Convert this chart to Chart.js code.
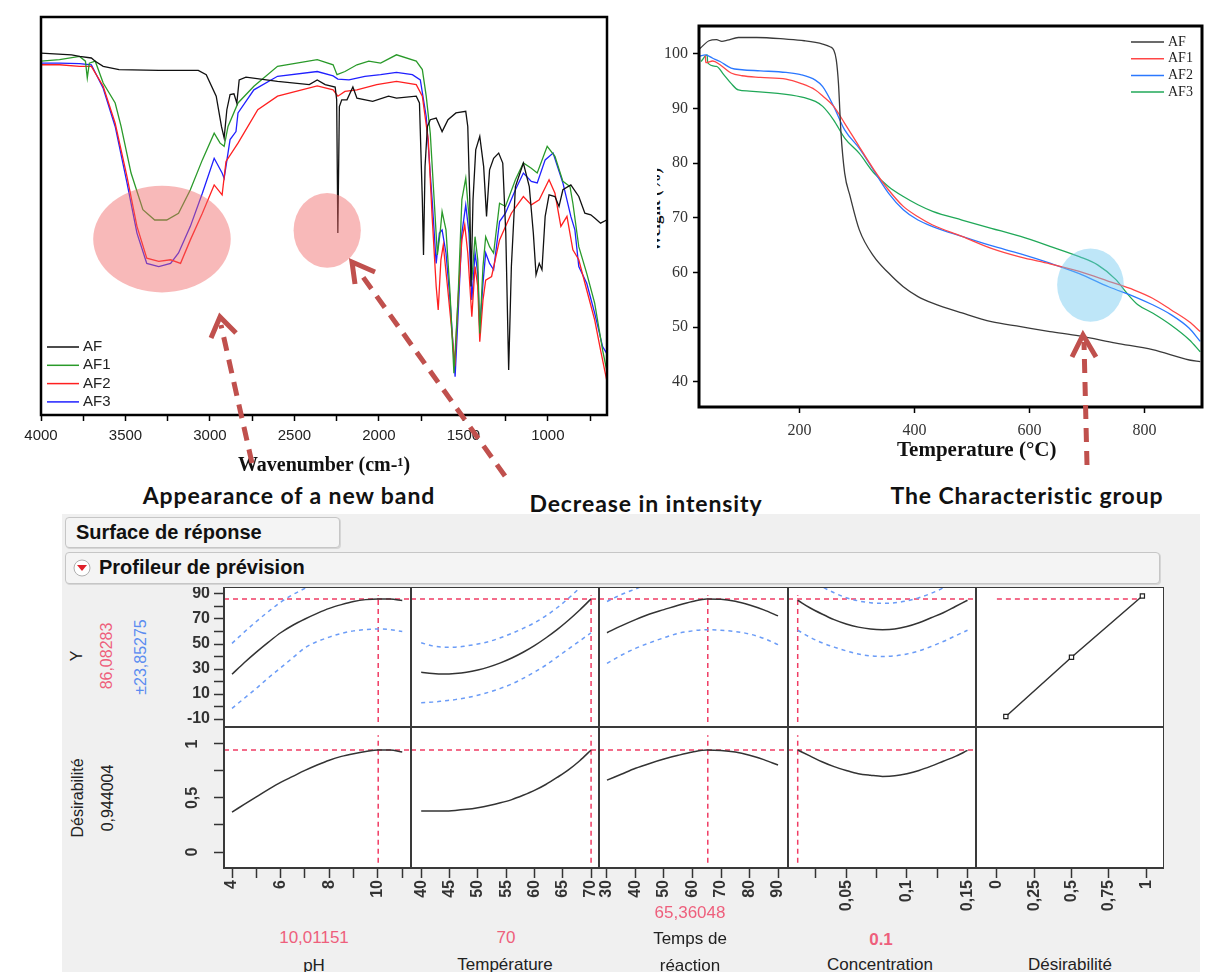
<!DOCTYPE html>
<html>
<head>
<meta charset="utf-8">
<script src="https://cdn.jsdelivr.net/npm/chart.js@4.4.1/dist/chart.umd.min.js"></script>
<style>
html, body { margin: 0; padding: 0; background: #fff; }
#page { position: relative; width: 1214px; height: 972px; overflow: hidden; background: #fff; font-family: "Liberation Sans", Arial, sans-serif; }
canvas { position: absolute; }
.note { position: absolute; font-family: Lato, "Open Sans", sans-serif; font-weight: 700; font-size: 23px; letter-spacing: 0.9px; color: #111; white-space: nowrap; transform: translate(-50%, -50%); }
#panel { position: absolute; left: 62px; top: 514px; width: 1138px; height: 458px; background: #f0f0f0; }
.bar { position: absolute; box-sizing: border-box; border: 1px solid #c6c6c6; border-radius: 4px; background: #f4f4f4; box-shadow: 1px 1px 0 #d6d6d6; font-weight: 700; font-size: 20px; color: #111; line-height: 28px; }
.lab { position: absolute; white-space: nowrap; transform: translate(-50%, -50%); font-size: 17px; color: #222; }
.rot { position: absolute; white-space: nowrap; transform: translate(-50%, -50%) rotate(-90deg); font-size: 16px; color: #222; }
.red { color: #ee5f7c; }
.blue { color: #5b8cf0; }
#wclip { position: absolute; left: 657px; top: 140px; width: 13px; height: 140px; overflow: hidden; }
#wclip span { position: absolute; left: -2px; top: 70px; transform: translate(-50%, -50%) rotate(-90deg); font: bold 17px "Liberation Serif", serif; color: #111; white-space: nowrap; }
svg { position: absolute; left: 0; top: 0; }
</style>
</head>
<body>
<div id="page">
  <div id="panel"></div>
  <div class="bar" style="left:65px;top:517px;width:275px;height:31px;padding-left:10px;">Surface de réponse</div>
  <div class="bar" style="left:65px;top:552px;width:1095px;height:32px;padding-left:33px;">
    <svg width="20" height="20" style="left:6px;top:5px;"><circle cx="10" cy="10" r="8" fill="#fff" stroke="#b0b0b0"/><path d="M5 7 L15 7 L10 13 Z" fill="#e0202a"/></svg>
    Profileur de prévision
  </div>
  <div id="wclip"><span>Weight (%)</span></div>
</div>
<script>
// ---------- FTIR spectra ----------
const ftirTicks = [4000, 3750, 3500, 3250, 3000, 2750, 2500, 2250, 2000, 1750, 1500, 1250, 1000, 750];
const ftirLabels = [4000, 3500, 3000, 2500, 2000, 1500, 1000];

const afWave = [4000,3819,3772,3702,3679,3632,3538,3303,3069,3022,2963,2932,2916,2900,2881,2858,2841,2827,2787,2600,2412,2365,2318,2259,2250,2243,2234,2220,2189,2154,2130,2037,1943,1896,1779,1760,1743,1736,1727,1713,1696,1661,1626,1591,1544,1486,1474,1462,1455,1443,1427,1403,1380,1363,1345,1321,1291,1267,1249,1232,1216,1192,1145,1110,1086,1070,1051,1035,1016,993,958,934,911,864,817,781,746,723,688,652];
const afTrans = [90.9,90.5,90.1,89.7,88.9,87.6,86.8,86.6,86.6,85.5,80.1,72.5,69.6,76.7,80.5,80.7,78.4,84.2,84.9,83.8,83.0,84.2,83.0,82.4,79.2,45.7,77.5,79.2,79.2,82.4,79.6,78.8,80.1,79.6,80.1,78.4,54.1,40.2,62.4,72.5,74.2,74.6,71.2,74.2,75.9,76.3,72.5,54.1,32.3,54.1,66.6,70.0,62.4,49.9,61.6,64.5,65.8,63.3,45.7,11.3,37.3,57.4,63.3,57.4,45.7,35.2,38.1,36.5,49.9,55.3,54.9,52.4,56.6,57.8,54.9,50.7,50.3,49.5,48.2,49.0];

const af1Wave = [4000,3890,3772,3737,3726,3714,3679,3632,3561,3526,3467,3397,3327,3256,3186,3116,3045,2975,2940,2916,2893,2834,2740,2600,2365,2271,2248,2201,2130,2060,1990,1896,1779,1743,1720,1696,1673,1654,1638,1626,1603,1579,1556,1532,1509,1486,1467,1450,1431,1415,1403,1384,1368,1345,1321,1286,1251,1192,1145,1098,1063,1004,958,911,869,852,817,770,723,676,652];
const af1Trans = [88.9,89.3,90.1,88.9,84.7,88.4,88.9,83.4,78.4,72.5,60.8,51.6,49.0,49.0,50.7,56.6,64.1,70.8,68.3,67.5,72.5,78.4,82.6,87.6,89.3,88.0,85.5,86.3,88.0,88.9,88.4,90.5,88.9,86.8,80.1,70.8,54.1,40.2,45.7,51.1,46.5,30.6,10.5,28.9,54.1,59.5,49.9,33.9,44.8,39.0,20.5,37.3,44.8,42.3,40.7,53.2,52.4,59.1,63.3,62.0,60.8,67.5,65.0,58.7,57.4,53.2,42.3,35.6,28.1,16.3,11.3];

const af2Wave = [4000,3890,3772,3702,3632,3561,3491,3432,3374,3303,3233,3174,3116,3045,2975,2928,2905,2834,2717,2600,2365,2271,2243,2201,2130,2013,1896,1779,1743,1708,1685,1661,1649,1633,1619,1596,1567,1551,1532,1509,1492,1474,1450,1431,1415,1403,1384,1368,1333,1286,1216,1145,1098,1051,993,958,923,887,852,817,770,723,688,652];
const af2Trans = [88.0,88.0,87.6,87.6,82.6,73.3,59.9,47.4,39.4,38.6,39.0,38.1,44.0,50.7,57.8,55.3,63.7,68.3,76.7,80.1,82.7,81.7,80.1,81.3,81.7,83.0,83.8,83.0,80.1,69.2,49.9,32.3,26.4,39.0,42.7,33.1,20.5,12.2,28.9,44.0,47.8,40.7,24.7,37.3,32.3,18.4,28.9,33.9,34.8,44.0,50.7,54.9,52.8,54.1,59.1,55.7,47.4,49.9,41.5,39.0,31.4,23.9,16.3,8.8];

const af3Wave = [4000,3890,3772,3702,3632,3561,3491,3432,3374,3303,3233,3186,3116,3045,2975,2928,2916,2881,2846,2834,2740,2600,2365,2271,2243,2177,2083,1990,1896,1802,1755,1720,1685,1661,1642,1626,1603,1579,1549,1532,1509,1486,1467,1450,1431,1415,1403,1384,1368,1345,1321,1286,1251,1192,1145,1098,1063,1016,969,911,864,840,817,770,723,676,652];
const af3Trans = [88.4,88.4,88.3,88.0,82.1,72.5,58.3,45.7,38.1,37.3,38.1,40.7,47.4,55.7,64.5,60.8,59.5,69.2,71.2,75.9,81.7,85.1,86.3,85.2,84.4,84.2,85.1,85.5,86.1,85.5,84.2,75.0,54.1,38.1,45.7,46.5,40.7,28.9,9.6,24.7,45.7,52.8,45.7,28.9,40.7,35.6,21.4,33.1,40.7,38.1,36.5,48.6,50.7,56.6,60.8,58.7,58.3,64.1,65.8,58.3,49.9,46.5,37.3,33.1,25.6,17.2,15.5];

// highlighted regions (centre and half-size in axis units)
const ftirSpots = [
  { x: 3284, y: 44.2, rx: 407, ry: 13.4 },
  { x: 2306, y: 46.4, rx: 199, ry: 9.4 }
];

// ---------- TGA ----------
const tgaXTicks = [200, 400, 600, 800];
const tgaYTicks = [40, 50, 60, 70, 80, 90, 100];

const tgaAfTemp = [26.6,42.5,55.3,64.8,74.4,93.5,125.4,176.4,208.3,240.2,252.9,259.3,263.8,267.6,272.0,278.4,288.0,303.9,329.4,354.9,380.4,405.9,431.4,482.5,533.5,584.5,635.5,686.5,750.3,814.0,877.8,896.9];
const tgaAfWeight = [101.0,102.4,102.6,102.3,102.5,103.0,103.0,102.7,102.4,101.8,101.3,100.7,98.9,94.6,85.5,78.2,73.9,67.8,62.9,59.9,57.4,55.6,54.4,52.6,51.0,50.1,49.2,48.4,47.1,45.9,44.0,43.7];

const tgaAf1Temp = [36.1,36.8,48.9,61.6,80.8,99.9,131.8,176.4,201.9,227.4,240.2,259.3,278.4,303.9,329.4,354.9,380.4,405.9,431.4,482.5,533.5,584.5,635.5,686.5,737.5,782.1,814.0,845.9,877.8,896.9];
const tgaAf1Weight = [99.7,98.4,98.7,98.0,96.5,96.0,95.7,95.4,94.6,93.4,92.3,90.4,87.3,83.0,78.8,75.1,72.1,70.2,68.7,66.6,64.4,62.8,61.6,60.2,58.4,56.8,55.3,53.2,51.0,49.2];

const tgaAf2Temp = [26.6,36.1,48.9,61.6,80.8,99.9,131.8,176.4,201.9,227.4,240.2,259.3,278.4,303.9,329.4,354.9,380.4,405.9,431.4,482.5,533.5,584.5,635.5,686.5,737.5,782.1,814.0,845.9,877.8,896.9];
const tgaAf2Weight = [99.6,99.8,99.2,98.6,97.4,97.1,96.9,96.6,96.2,95.2,94.0,90.4,86.1,82.7,78.6,74.5,71.5,69.6,68.4,66.6,64.9,63.4,61.7,59.8,57.4,55.6,54.1,52.3,49.8,47.4];

const tgaAf3Temp = [28.5,39.3,40.0,55.3,68.0,80.8,93.5,112.6,176.4,208.3,227.4,240.2,259.3,278.4,303.9,329.4,354.9,380.4,405.9,431.4,482.5,533.5,584.5,635.5,686.5,718.4,750.3,769.4,788.5,814.0,845.9,877.8,896.9];
const tgaAf3Weight = [98.6,99.8,98.4,97.7,96.2,94.6,93.4,93.2,92.6,92.0,91.3,90.4,87.9,84.6,81.8,78.2,75.7,73.9,72.4,71.2,69.6,68.1,66.6,64.8,62.9,61.4,58.7,56.2,54.1,52.6,50.4,47.7,45.5];

const tgaSpots = [{ x: 706, y: 57.7, rx: 58, ry: 6.7 }];

// ---------- prediction profiler ----------
const curY = 86.08283, curD = 0.944004;
const curPH = 10.01151, curTemp = 70, curTime = 65.36048, curConc = 0.01;
const vSpanY = [-12.4, 89], vSpanD = [-0.1, 1.08];

const yRowTicks = [-10, 0, 10, 20, 30, 40, 50, 60, 70, 80, 90];
const yRowLabels = [-10, 10, 30, 50, 70, 90];
const dRowTicks = [0, 0.25, 0.5, 0.75, 1];
const dRowLabels = [0, 0.5, 1];

const phX = [4,4.5,5,5.5,6,6.5,7,7.5,8,8.5,9,9.5,10,10.5,11];
const phY = [25.8,35,43.5,51.5,59,65,70,74.5,78.5,81.5,84,85.5,86.1,86,84.8];
const phUp = [50.5,59.5,68,76,83.5,89.5,94.5,99,103,106,108.5,110,110.6,110.5,109.3];
const phLo = [-1.5,6.5,14.5,23,31,39,47,52,55.5,58.5,60.5,61.5,62,61.5,60];
const phDes = [0.37,0.44,0.51,0.58,0.645,0.70,0.755,0.805,0.85,0.885,0.91,0.93,0.944,0.944,0.925];
const phTicks = [4,5,6,7,8,9,10,11], phLabels = [4,6,8,10];

const tempX = [40,42,44,46,48,50,52,54,56,58,60,62,64,66,68,70];
const tempY = [27.4,26.4,26,26.4,27.4,29.2,31.7,34.9,38.8,43.4,48.7,54.8,61.5,69,77.2,86.1];
const tempUp = [51,48.5,47.5,47.5,48.5,50,52,55,58.5,62.5,67,72.5,79,86.5,95,104];
const tempLo = [3,3.5,4.5,5.5,7,9,11.5,14.5,18,22.5,27.5,33,39.5,46,52.5,59];
const tempDes = [0.38,0.38,0.38,0.385,0.395,0.41,0.43,0.455,0.485,0.525,0.57,0.625,0.69,0.76,0.845,0.944];
const tempTicks = [40,45,50,55,60,65,70], tempLabels = [40,45,50,55,60,65,70];

const timeX = [30,35,40,45,50,55,60,65,70,75,80,85,90];
const timeY = [59,64.5,69.5,74,77.5,81,84,86,85.8,84.2,81.2,77.3,72.5];
const timeUp = [84,89.5,94,98.5,102,105.5,108.5,110.5,110.5,109,106.5,102.5,97.5];
const timeLo = [34.5,41,46.5,51,55,58.5,60.5,61.5,61,60,58,54.5,49.5];
const timeDes = [0.665,0.72,0.775,0.82,0.86,0.895,0.925,0.944,0.94,0.925,0.895,0.855,0.805];
const timeTicks = [30,40,50,60,70,80,90], timeLabels = [30,40,50,60,70,80,90];

const concX = [0.01,0.02,0.03,0.04,0.05,0.06,0.07,0.08,0.09,0.10,0.11,0.12,0.13,0.14,0.15];
const concY = [85,79,74,69.5,66,63.5,62,61.5,62,64,67,71,75,80,85];
const concUp = [110,103,96,91,87,84.5,83,82.5,83,84.5,87,90.5,95,101,108];
const concLo = [61,55.5,51,47.5,44.5,42,40.5,40,40.5,42,44.5,48,52,56.5,61];
const concDes = [0.944,0.89,0.835,0.79,0.755,0.725,0.71,0.70,0.705,0.725,0.755,0.795,0.84,0.885,0.94];
const concTicks = [0.025,0.05,0.075,0.1,0.125,0.15], concLabels = [0.05,0.1,0.15];

const desFnX = [0.06, 0.5, 0.975];
const desFnY = [-8, 39.4, 88.4];
const desTicks = [0, 0.25, 0.5, 0.75, 1], desLabels = [0, 0.25, 0.5, 0.75, 1];

// ---------- helpers ----------
Chart.defaults.font.family = '"Liberation Sans", Arial, sans-serif';
Chart.defaults.animation = false;

const page = document.getElementById('page');
function pts(xs, ys) { return xs.map((x, i) => ({ x: x, y: ys[i] })); }
function fmt(v) { return String(v).replace('.', ','); }
function mkCanvas(left, top, w, h) {
  const c = document.createElement('canvas');
  c.width = w; c.height = h;
  c.style.left = left + 'px'; c.style.top = top + 'px';
  c.style.width = w + 'px'; c.style.height = h + 'px';
  page.appendChild(c);
  return c;
}
function fixTicks(list) { return s => { s.ticks = list.map(v => ({ value: v })); }; }
function fixSize(prop, px) {
  return s => { s[prop] = px; s.paddingLeft = s.paddingRight = s.paddingTop = s.paddingBottom = 0; };
}
let pid = 0;
function framePlugin(w, color) {
  return { id: 'frame' + (pid++), afterDraw(chart) {
    const a = chart.chartArea, ctx = chart.ctx;
    ctx.save(); ctx.strokeStyle = color; ctx.lineWidth = w;
    ctx.strokeRect(a.left, a.top, a.right - a.left, a.bottom - a.top);
    ctx.restore();
  } };
}
function spotPlugin(list, color) {
  return { id: 'spot' + (pid++), afterDatasetsDraw(chart) {
    const xs = chart.scales.x, ys = chart.scales.y, ctx = chart.ctx;
    ctx.save(); ctx.fillStyle = color;
    list.forEach(s => {
      const cx = xs.getPixelForValue(s.x), cy = ys.getPixelForValue(s.y);
      const rx = Math.abs(xs.getPixelForValue(s.x + s.rx) - cx);
      const ry = Math.abs(ys.getPixelForValue(s.y + s.ry) - cy);
      ctx.beginPath(); ctx.ellipse(cx, cy, rx, ry, 0, 0, Math.PI * 2); ctx.fill();
    });
    ctx.restore();
  } };
}
function legendPlugin(p) {
  return { id: 'lg' + (pid++), afterDraw(chart) {
    const ctx = chart.ctx;
    ctx.save(); ctx.font = p.font; ctx.textBaseline = 'middle';
    chart.data.datasets.forEach((ds, i) => {
      const y = p.y + i * p.row;
      ctx.strokeStyle = ds.borderColor; ctx.lineWidth = 1.5;
      ctx.beginPath(); ctx.moveTo(p.x, y); ctx.lineTo(p.x + p.len, y); ctx.stroke();
      ctx.fillStyle = p.color; ctx.fillText(ds.label, p.x + p.len + p.gap, y);
    });
    ctx.restore();
  } };
}
function lineDs(label, xs, ys, color, extra) {
  return Object.assign({ label: label, data: pts(xs, ys), borderColor: color, borderWidth: 1.3,
    pointRadius: 0, fill: false, tension: 0 }, extra || {});
}

// ---------- FTIR chart ----------
new Chart(mkCanvas(0, 0, 620, 480), {
  type: 'line',
  data: { datasets: [
    lineDs('AF', afWave, afTrans, '#111111'),
    lineDs('AF1', af1Wave, af1Trans, '#2a9a2a'),
    lineDs('AF2', af2Wave, af2Trans, '#ff2020'),
    lineDs('AF3', af3Wave, af3Trans, '#2020ff')
  ] },
  options: {
    responsive: false, devicePixelRatio: 1,
    layout: { padding: { left: 41, right: 13, top: 17, bottom: 0 } },
    plugins: { legend: { display: false }, tooltip: { enabled: false } },
    scales: {
      x: { type: 'linear', min: 650, max: 4000, reverse: true,
        afterBuildTicks: fixTicks(ftirTicks), afterFit: fixSize('height', 65),
        grid: { drawOnChartArea: false, tickLength: 6, tickColor: '#000', tickWidth: 1.5 },
        border: { display: false },
        ticks: { autoSkip: false, maxRotation: 0, padding: 6, color: '#222', font: { size: 15 },
          callback: v => ftirLabels.includes(v) ? String(v) : '' },
        title: { display: true, text: 'Wavenumber (cm-¹)', color: '#111',
          font: { family: '"Liberation Serif", serif', size: 20, weight: 'bold' }, padding: { top: 0, bottom: 2 } } },
      y: { min: 0, max: 100, display: false }
    }
  },
  plugins: [spotPlugin(ftirSpots, 'rgba(240,100,100,0.45)'), framePlugin(2.5, '#000'),
    legendPlugin({ x: 47, y: 347, row: 18.3, len: 32, gap: 4, font: '15px "Liberation Sans", Arial', color: '#222' })]
});

// ---------- TGA chart ----------
new Chart(mkCanvas(640, 0, 574, 480), {
  type: 'line',
  data: { datasets: [
    lineDs('AF', tgaAfTemp, tgaAfWeight, '#3a3a3a', { cubicInterpolationMode: 'monotone' }),
    lineDs('AF1', tgaAf1Temp, tgaAf1Weight, '#ff4646', { cubicInterpolationMode: 'monotone' }),
    lineDs('AF2', tgaAf2Temp, tgaAf2Weight, '#2b78ff', { cubicInterpolationMode: 'monotone' }),
    lineDs('AF3', tgaAf3Temp, tgaAf3Weight, '#20a858', { cubicInterpolationMode: 'monotone' })
  ] },
  options: {
    responsive: false, devicePixelRatio: 1,
    layout: { padding: { left: 0, right: 12, top: 26, bottom: 0 } },
    plugins: { legend: { display: false }, tooltip: { enabled: false } },
    scales: {
      x: { type: 'linear', min: 25, max: 900,
        afterBuildTicks: fixTicks(tgaXTicks), afterFit: fixSize('height', 73),
        grid: { drawOnChartArea: false, tickLength: 6, tickColor: '#000', tickWidth: 1.5 },
        border: { display: false },
        ticks: { autoSkip: false, maxRotation: 0, padding: 8, color: '#333',
          font: { family: '"Liberation Serif", serif', size: 16 } },
        title: { display: true, text: '\u2002\u2002\u2002\u2002\u2002Temperature (°C)', color: '#111',
          font: { family: '"Liberation Serif", serif', size: 21, weight: 'bold' }, padding: { top: 0, bottom: 17 } } },
      y: { type: 'linear', min: 35.4, max: 105.1,
        afterBuildTicks: fixTicks(tgaYTicks), afterFit: fixSize('width', 59),
        grid: { drawOnChartArea: false, tickLength: 6, tickColor: '#000', tickWidth: 1.5 },
        border: { display: false },
        ticks: { autoSkip: false, padding: 5, color: '#333',
          font: { family: '"Liberation Serif", serif', size: 16 } } }
    }
  },
  plugins: [spotPlugin(tgaSpots, 'rgba(110,200,240,0.45)'), framePlugin(3, '#000'),
    legendPlugin({ x: 491, y: 42, row: 16.7, len: 33, gap: 4, font: '14px "Liberation Serif", serif', color: '#222' })]
});

// ---------- profiler grid ----------
const colEdges = [224, 411, 599, 788, 976, 1164];
const rowEdges = [587, 727, 868];
const yAxisW = 74, xAxisH = 60;
const redDash = { borderColor: '#f03c64', borderWidth: 1.5, borderDash: [5, 4] };
const blueDash = { borderColor: '#6b9cf7', borderWidth: 1.5, borderDash: [4, 4] };
const blackLn = { borderColor: '#333', borderWidth: 1.5 };
const tickFont = { size: 16, weight: 'bold' };

const cellBg = { id: 'cellBg', beforeDraw(chart) {
  const a = chart.chartArea, ctx = chart.ctx;
  ctx.save(); ctx.fillStyle = '#fff'; ctx.fillRect(a.left, a.top, a.right - a.left, a.bottom - a.top); ctx.restore();
} };

const factors = [
  { min: 3.67, max: 11.36, ticks: phTicks, labels: phLabels, x: phX, y: phY, up: phUp, lo: phLo, d: phDes, cur: curPH },
  { min: 38.2, max: 71.4, ticks: tempTicks, labels: tempLabels, x: tempX, y: tempY, up: tempUp, lo: tempLo, d: tempDes, cur: curTemp },
  { min: 27.2, max: 93.5, ticks: timeTicks, labels: timeLabels, x: timeX, y: timeY, up: timeUp, lo: timeLo, d: timeDes, cur: curTime },
  { min: 0.002, max: 0.157, ticks: concTicks, labels: concLabels, x: concX, y: concY, up: concUp, lo: concLo, d: concDes, cur: curConc },
  { min: -0.14, max: 1.12, ticks: desTicks, labels: desLabels }
];
const rows = [
  { min: -16.4, max: 95.6, ticks: yRowTicks, labels: yRowLabels, rot: 0, pad: 4 },
  { min: -0.148, max: 1.157, ticks: dRowTicks, labels: dRowLabels, rot: 90, pad: 10 }
];

function addCell(r, c, datasets) {
  const showY = c === 0, showX = r === 1;
  const f = factors[c], rw = rows[r];
  const left = colEdges[c] - (showY ? yAxisW : 0);
  const top = rowEdges[r];
  const w = colEdges[c + 1] - left;
  const h = rowEdges[r + 1] - top + (showX ? xAxisH : 0);
  new Chart(mkCanvas(left, top, w, h), {
    type: 'line',
    data: { datasets: datasets },
    options: {
      responsive: false, devicePixelRatio: 1,
      layout: { padding: 0, autoPadding: false },
      plugins: { legend: { display: false }, tooltip: { enabled: false } },
      scales: {
        x: { type: 'linear', min: f.min, max: f.max, display: showX,
          afterBuildTicks: fixTicks(f.ticks), afterFit: fixSize('height', showX ? xAxisH : 0),
          grid: { drawOnChartArea: false, tickLength: 10, tickColor: '#333', tickWidth: 1.5 },
          border: { display: false },
          ticks: { autoSkip: false, minRotation: 90, maxRotation: 90, padding: 2, color: '#333', font: tickFont,
            callback: v => f.labels.includes(v) ? fmt(v) : '' } },
        y: { type: 'linear', min: rw.min, max: rw.max, display: showY,
          afterBuildTicks: fixTicks(rw.ticks), afterFit: fixSize('width', showY ? yAxisW : 0),
          grid: { drawOnChartArea: false, tickLength: 10, tickColor: '#333', tickWidth: 1.5 },
          border: { display: false },
          ticks: { autoSkip: false, minRotation: rw.rot, maxRotation: rw.rot, crossAlign: rw.rot ? 'center' : 'near',
            padding: rw.pad, color: '#333', font: tickFont,
            callback: v => rw.labels.includes(v) ? fmt(v) : '' } }
      }
    },
    plugins: [cellBg, framePlugin(2, '#3a3a3a')]
  });
}

for (let c = 0; c < 4; c++) {
  const f = factors[c];
  addCell(0, c, [
    lineDs('Y', f.x, f.y, '#333', Object.assign({ cubicInterpolationMode: 'monotone' }, blackLn)),
    lineDs('haut', f.x, f.up, '', Object.assign({ cubicInterpolationMode: 'monotone' }, blueDash)),
    lineDs('bas', f.x, f.lo, '', Object.assign({ cubicInterpolationMode: 'monotone' }, blueDash)),
    lineDs('Y actuel', [f.min, f.max], [curY, curY], '', redDash),
    lineDs('x actuel', [f.cur, f.cur], vSpanY, '', redDash)
  ]);
  addCell(1, c, [
    lineDs('D', f.x, f.d, '#333', Object.assign({ cubicInterpolationMode: 'monotone' }, blackLn)),
    lineDs('D actuel', [f.min, f.max], [curD, curD], '', redDash),
    lineDs('x actuel', [f.cur, f.cur], vSpanD, '', redDash)
  ]);
}
addCell(0, 4, [
  lineDs('fonction', desFnX, desFnY, '#333', Object.assign({}, blackLn, { pointRadius: 3, pointStyle: 'rect',
    pointBorderColor: '#222', pointBackgroundColor: '#fff', pointBorderWidth: 1.2 })),
  lineDs('Y actuel', [0, curD], [curY, curY], '', redDash)
]);
addCell(1, 4, []);

// ---------- text labels ----------
function addText(cls, x, y, text, style) {
  const d = document.createElement('div');
  d.className = cls; d.textContent = text;
  d.style.left = x + 'px'; d.style.top = y + 'px';
  if (style) d.style.cssText += style;
  page.appendChild(d);
}
addText('note', 289, 495, 'Appearance of a new band');
addText('note', 646, 503, 'Decrease in intensity');
addText('note', 1027, 495, 'The Characteristic group');

addText('rot', 77, 656, 'Y');
addText('rot red', 107, 656, '86,08283');
addText('rot blue', 141, 657, '±23,85275');
addText('rot', 78, 798, 'Désirabilité');
addText('rot', 108, 798, '0,944004');

addText('lab red', 314, 938, '10,01151');
addText('lab', 314, 966, 'pH');
addText('lab red', 506, 938, '70');
addText('lab', 505, 965, 'Température');
addText('lab red', 690, 913, '65,36048');
addText('lab', 690, 939, 'Temps de');
addText('lab', 690, 966, 'réaction');
addText('lab red', 881, 940, '0.1', 'font-weight:bold;');
addText('lab', 880, 965, 'Concentration');
addText('lab', 1070, 965, 'Désirabilité');

// ---------- dashed arrows ----------
const svgNS = 'http://www.w3.org/2000/svg';
const svg = document.createElementNS(svgNS, 'svg');
svg.setAttribute('width', 1214); svg.setAttribute('height', 972);
const arrows = [
  { tail: [252, 463], tip: [221, 325], head: '211,338 220,317 236,333' },
  { tail: [505, 476], tip: [358, 270], head: '355,284 352,262 375,272' },
  { tail: [1087, 465], tip: [1084, 342], head: '1072,357 1083,335 1096,357' }
];
arrows.forEach(a => {
  const l = document.createElementNS(svgNS, 'line');
  l.setAttribute('x1', a.tail[0]); l.setAttribute('y1', a.tail[1]);
  l.setAttribute('x2', a.tip[0]); l.setAttribute('y2', a.tip[1]);
  l.setAttribute('stroke', '#c0504d'); l.setAttribute('stroke-width', 5);
  l.setAttribute('stroke-dasharray', '14 9');
  svg.appendChild(l);
  const p = document.createElementNS(svgNS, 'polyline');
  p.setAttribute('points', a.head); p.setAttribute('fill', 'none');
  p.setAttribute('stroke', '#c0504d'); p.setAttribute('stroke-width', 5);
  svg.appendChild(p);
});
page.appendChild(svg);
</script>
</body>
</html>
